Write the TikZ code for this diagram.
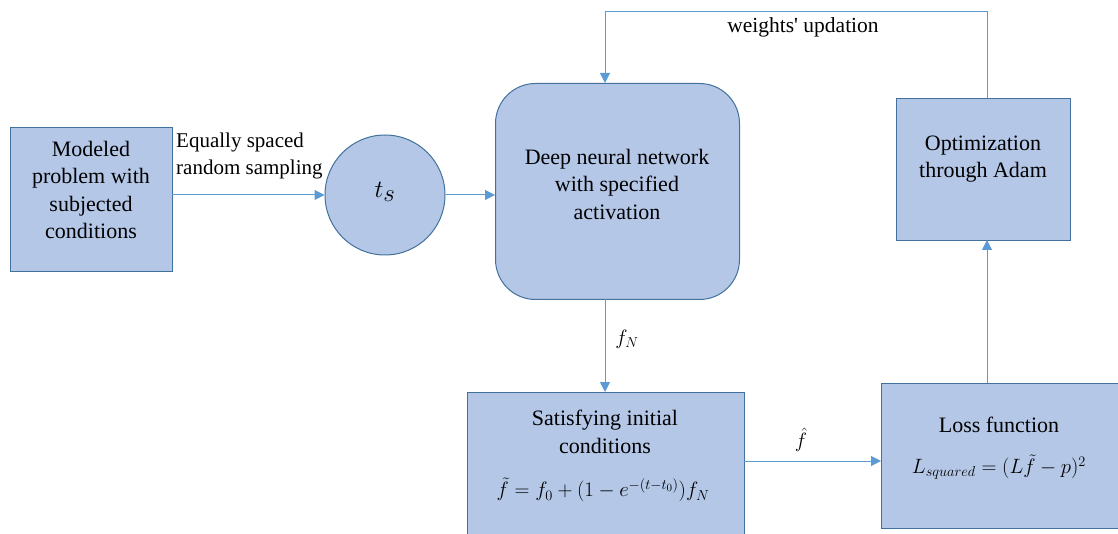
\documentclass[tikz,border=0pt]{standalone}
\usepackage{fontspec}
\setmainfont{Liberation Serif}
\usetikzlibrary{arrows.meta}
\definecolor{boxfill}{HTML}{B4C7E7}
\definecolor{boxline}{HTML}{41719C}
\definecolor{arrowc}{HTML}{5B9BD5}
\begin{document}
\begin{tikzpicture}[x=1pt,y=-1pt,
  blk/.style={draw=boxline,fill=boxfill,line width=1pt,inner sep=0pt},
  txt/.style={font=\fontsize{22}{27.5}\selectfont,align=center,inner sep=0pt},
  mth/.style={font=\fontsize{21.5}{22}\selectfont,inner sep=0pt},
  conn/.style={draw=arrowc,line width=1pt,-{Triangle[length=10pt,width=10pt]}}]
\useasboundingbox (0,0) rectangle (1118,534);
% boxes
\node[blk,minimum width=162pt,minimum height=144pt,anchor=north west] (mod) at (10,127) {};
\node[blk,circle,minimum size=120pt] (ts) at (385,195) {};
\node[blk,rounded corners=40pt,minimum width=244pt,minimum height=216pt,anchor=north west] (dnn) at (495,83) {};
\node[blk,minimum width=174pt,minimum height=142pt,anchor=north west] (opt) at (896,98) {};
\node[blk,minimum width=277pt,minimum height=150pt,anchor=north west] (sat) at (467,392) {};
\node[blk,minimum width=240pt,minimum height=145pt,anchor=north west] (loss) at (881,383) {};
% texts
\node[txt] (modtxt) at (91,190) {Modeled\\problem with\\subjected\\conditions};
\node[font=\fontsize{36}{36}\selectfont,inner sep=0pt] (tstxt) at (385,192) {$t_s$};
\node[txt] (dnntxt) at (617,184) {Deep neural network\\with specified\\activation};
\node[txt] (opttxt) at (983,159) {Optimization\\through Adam};
\node[txt] (sattxt) at (605,432) {Satisfying initial\\conditions};
\node[mth] (satf) at (603,490) {$\tilde f = f_0 + (1-e^{-(t-t_0)})f_N$};
\node[txt] (losstxt) at (999,425) {Loss function};
\node[mth] (lossf) at (999,467) {$L_{squared} = (L\tilde f - p)^2$};
% connectors
\coordinate (c1) at (987,12);
\coordinate (c2) at (605,12);
\coordinate (dnntop) at (605,83);
\coordinate (dnnbot) at (605,299);
\coordinate (sattop) at (605,392);
\coordinate (opttop) at (987,98);
\coordinate (modout) at (172,195);
\coordinate (satout) at (744,461);
\coordinate (lossin) at (881,461);
\coordinate (lossup) at (987,383);
\coordinate (optbot) at (987,240);
\draw[conn] (modout) -- (ts.west);
\draw[conn] (ts.east) -- (dnn.west |- ts.east);
\draw[conn] (dnnbot) -- (sattop);
\draw[conn] (satout) -- (lossin);
\draw[conn] (lossup) -- (optbot);
\draw[conn] (opttop) -- (c1) -- (c2) -- (dnntop);
% labels
\node[font=\fontsize{21}{27}\selectfont,align=left,anchor=north west,inner sep=0pt] (eq) at (176,133) {Equally spaced\\random sampling};
\node[mth] (fn) at (627,339) {$f_N$};
\node[mth] (fh) at (801,440) {$\hat f$};
\node[font=\fontsize{21.5}{22}\selectfont,inner sep=0pt] (wu) at (803,27) {weights\textquotesingle{} updation};
\end{tikzpicture}
\end{document}
